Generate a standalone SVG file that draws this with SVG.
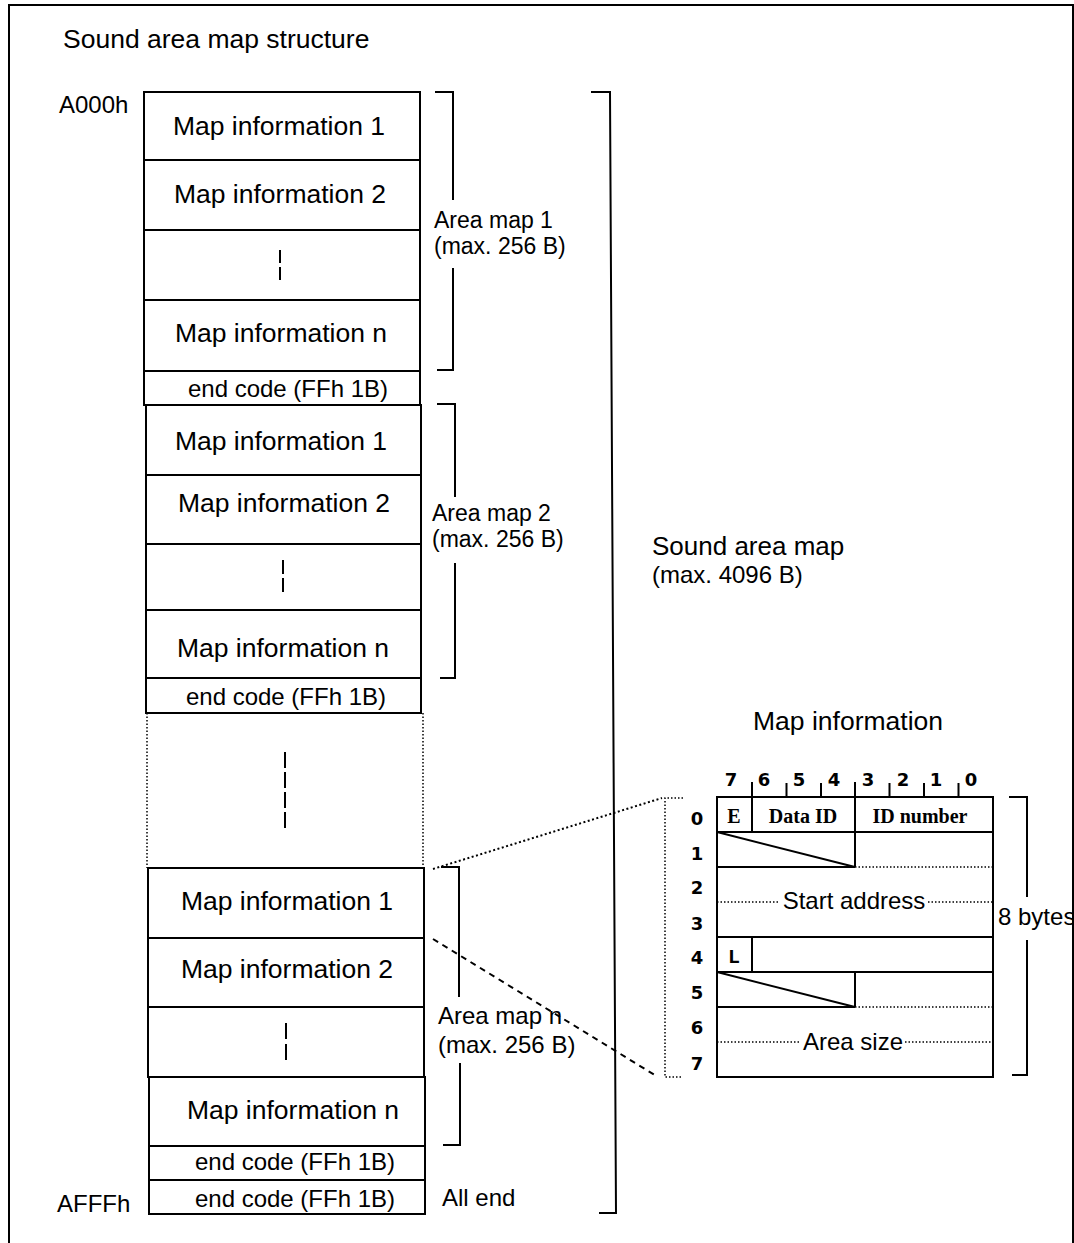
<svg xmlns="http://www.w3.org/2000/svg" width="1074" height="1243" viewBox="0 0 1074 1243">
<style>
.bg{fill:#fff}
.ln{stroke:#000;stroke-width:2;fill:none}
.cell{stroke:#000;stroke-width:2;fill:#fff}
.dot{stroke:#000;stroke-width:1.5;fill:none;stroke-dasharray:1.5 2}
.dotc{stroke:#000;stroke-width:2;fill:none;stroke-dasharray:2 2.5}
.dash{stroke:#000;stroke-width:2;fill:none;stroke-dasharray:6 5}
.vd{stroke:#000;stroke-width:2;fill:none}
text{font-family:"Liberation Sans",Arial,sans-serif;fill:#000}
.mi{font-size:26.5px;text-anchor:middle}
.ec{font-size:24px;text-anchor:middle}
.lb{font-size:24px}
.am{font-size:23px}
.big{font-size:26.5px}
.bit{font-family:"DejaVu Sans",sans-serif;font-weight:bold;font-size:18px;text-anchor:middle}
.ser{font-family:"Liberation Serif",serif;font-weight:bold;font-size:20px;text-anchor:middle}
.mono{font-family:"Liberation Mono",monospace;font-weight:bold;font-size:20px;text-anchor:middle}
</style>
<rect class="bg" x="0" y="0" width="1074" height="1243"/>
<g id="frame">
<path class="ln" d="M9,1243 V5 H1073 V1243"/>
</g>
<text id="title" class="big" x="63" y="48">Sound area map structure</text>
<text id="addr-start" class="lb" x="59" y="113">A000h</text>
<text id="addr-end" class="lb" x="57" y="1212">AFFFh</text>

<!-- Area map 1 -->
<g id="am1-mi1"><rect class="cell" x="144" y="92" width="276" height="68"/><text class="mi" x="279" y="135">Map information 1</text></g>
<g id="am1-mi2"><rect class="cell" x="144" y="160" width="276" height="70"/><text class="mi" x="280" y="203">Map information 2</text></g>
<g id="am1-dots"><rect class="cell" x="144" y="230" width="276" height="70"/><line class="vd" x1="280" y1="250" x2="280" y2="284" stroke-dasharray="13 4"/></g>
<g id="am1-min"><rect class="cell" x="144" y="300" width="276" height="71"/><text class="mi" x="281" y="342">Map information n</text></g>
<g id="am1-end"><rect class="cell" x="144" y="371" width="276" height="34"/><text class="ec" x="288" y="397">end code (FFh 1B)</text></g>

<!-- Area map 2 -->
<g id="am2-mi1"><rect class="cell" x="146" y="405" width="275" height="70"/><text class="mi" x="281" y="450">Map information 1</text></g>
<g id="am2-mi2"><rect class="cell" x="146" y="475" width="275" height="69"/><text class="mi" x="284" y="512">Map information 2</text></g>
<g id="am2-dots"><rect class="cell" x="146" y="544" width="275" height="66"/><line class="vd" x1="283" y1="560" x2="283" y2="595" stroke-dasharray="14 4"/></g>
<g id="am2-min"><rect class="cell" x="146" y="610" width="275" height="68"/><text class="mi" x="283" y="657">Map information n</text></g>
<g id="am2-end"><rect class="cell" x="146" y="678" width="275" height="35"/><text class="ec" x="286" y="705">end code (FFh 1B)</text></g>

<!-- omitted area maps -->
<g id="gap">
<line class="dot" x1="147" y1="713" x2="147" y2="868"/>
<line class="dot" x1="423" y1="713" x2="423" y2="868"/>
<line class="vd" x1="285" y1="752" x2="285" y2="831" stroke-dasharray="16 4"/>
</g>

<!-- Area map n -->
<g id="amn-mi1"><rect class="cell" x="148" y="868" width="276" height="70"/><text class="mi" x="287" y="910">Map information 1</text></g>
<g id="amn-mi2"><rect class="cell" x="148" y="938" width="276" height="69"/><text class="mi" x="287" y="978">Map information 2</text></g>
<g id="amn-dots"><rect class="cell" x="148" y="1007" width="276" height="70"/><line class="vd" x1="286" y1="1023" x2="286" y2="1060" stroke-dasharray="16 5"/></g>
<g id="amn-min"><rect class="cell" x="149" y="1077" width="276" height="69"/><text class="mi" x="293" y="1119">Map information n</text></g>
<g id="amn-end"><rect class="cell" x="149" y="1146" width="276" height="34"/><text class="ec" x="295" y="1170">end code (FFh 1B)</text></g>
<g id="all-end"><rect class="cell" x="149" y="1180" width="276" height="34"/><text class="ec" x="295" y="1207">end code (FFh 1B)</text></g>

<!-- brackets -->
<g id="br-am1">
<path class="ln" d="M435,92 H453 V200 M453,268 V370 H437"/>
<text class="am" x="434" y="228">Area map 1</text>
<text class="am" x="434" y="254">(max. 256 B)</text>
</g>
<g id="br-am2">
<path class="ln" d="M437,404 H455 V497 M455,563 V678 H440"/>
<text class="am" x="432" y="521">Area map 2</text>
<text class="am" x="432" y="547">(max. 256 B)</text>
</g>
<g id="br-amn">
<path class="ln" d="M441,867 H459 V997 M460,1063 V1145 H443"/>
<text class="lb" x="438" y="1024">Area map n</text>
<text class="lb" x="438" y="1053">(max. 256 B)</text>
</g>
<text id="all-end-label" class="lb" x="442" y="1206">All end</text>
<g id="br-sam">
<path class="ln" d="M591,92 H610 L616,1213 H599"/>
<text class="big" x="652" y="555" style="font-size:26px">Sound area map</text>
<text class="lb" x="652" y="583">(max. 4096 B)</text>
</g>

<!-- Map information detail -->
<g id="mapinfo">
<text class="big" x="753" y="730">Map information</text>
<g id="bits">
<text class="bit" x="731" y="786">7</text>
<text class="bit" x="764" y="786">6</text>
<text class="bit" x="799" y="786">5</text>
<text class="bit" x="834" y="786">4</text>
<text class="bit" x="868" y="786">3</text>
<text class="bit" x="903" y="786">2</text>
<text class="bit" x="936" y="786">1</text>
<text class="bit" x="971" y="786">0</text>
<path class="ln" d="M752,782 V797 M786.5,783 V797 M821,783 V797 M855,782 V797 M889.5,783 V797 M924,783 V797 M958.5,783 V797"/>
</g>
<g id="rows">
<text class="bit" x="697" y="825">0</text>
<text class="bit" x="697" y="860">1</text>
<text class="bit" x="697" y="894">2</text>
<text class="bit" x="697" y="930">3</text>
<text class="bit" x="697" y="964">4</text>
<text class="bit" x="697" y="999">5</text>
<text class="bit" x="697" y="1034">6</text>
<text class="bit" x="697" y="1070">7</text>
</g>
<g id="table">
<rect class="cell" x="717" y="797" width="276" height="280"/>
<path class="ln" d="M717,832 H993 M717,867 H855 M717,937 H993 M717,972 H993 M717,1007 H855"/>
<path class="ln" d="M752,797 V832 M855,797 V867 M752,937 V972 M855,972 V1007"/>
<path class="ln" d="M717,832 L855,867 M717,972 L855,1007"/>
<path class="dot" d="M855,867 H993 M855,1007 H993 M717,902 H780 M928,902 H993 M717,1042 H800 M905,1042 H993"/>
<text class="ser" x="734" y="823">E</text>
<text class="ser" x="803" y="823">Data ID</text>
<text class="ser" x="920" y="823">ID number</text>
<text class="mono" x="734" y="963">L</text>
<text class="ec" x="854" y="909">Start address</text>
<text class="ec" x="853" y="1050">Area size</text>
</g>
<g id="br-8bytes">
<path class="ln" d="M1009,797 H1027 V897 M1027,940 V1075 H1012"/>
<text class="lb" x="998" y="925">8 bytes</text>
</g>
</g>

<g id="connectors">
<path class="dot" d="M683,798 H665 V1077 H683"/>
<line class="dotc" x1="433" y1="869" x2="662" y2="798"/>
<line class="dash" x1="433" y1="939" x2="658" y2="1077"/>
</g>
</svg>
